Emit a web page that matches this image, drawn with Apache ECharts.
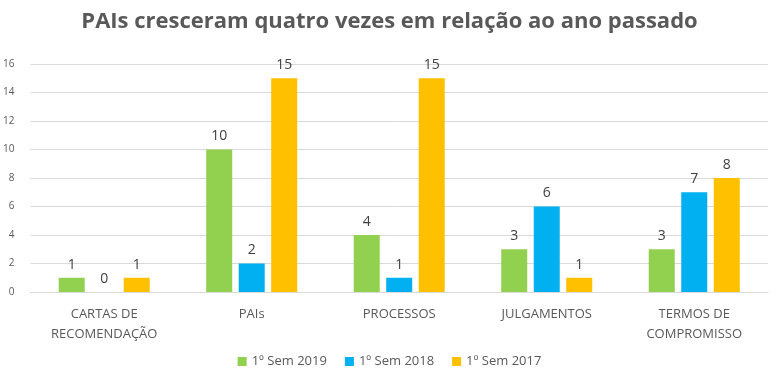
<!DOCTYPE html>
<html><head><meta charset="utf-8">
<script src="https://cdn.jsdelivr.net/npm/echarts@6/dist/echarts.min.js"></script>
<style>html,body{margin:0;padding:0;background:#fff}#c{width:779px;height:387px}</style>
</head><body><div id="c"></div>
<script>
var categories = ['CARTAS DE\nRECOMENDAÇÃO', 'PAIs', 'PROCESSOS', 'JULGAMENTOS', 'TERMOS DE\nCOMPROMISSO'];
var seriesNames = ['1º Sem 2019', '1º Sem 2018', '1º Sem 2017'];
var sem2019 = [1, 10, 4, 3, 3];
var sem2018 = [0, 2, 1, 6, 7];
var sem2017 = [1, 15, 15, 1, 8];
var colors = ['#92D050', '#00B0F0', '#FFC000'];
var font = '"Open Sans", "Liberation Sans", sans-serif';
var chart = echarts.init(document.getElementById('c'));
function mk(name, data, color) {
  return {
    name: name, type: 'bar', data: data, barWidth: 26, barGap: '25%',
    itemStyle: { color: color },
    label: { show: true, position: 'top', color: '#404040', fontSize: 14, fontFamily: font, distance: 6 }
  };
}
chart.setOption({
  animation: false,
  title: { text: 'PAIs cresceram quatro vezes em relação ao ano passado', left: 'center', top: 6,
    textStyle: { color: '#595959', fontSize: 22, fontWeight: 'bold', fontFamily: font } },
  legend: { bottom: 14, itemWidth: 9, itemHeight: 9, itemGap: 18, icon: 'rect',
    textStyle: { color: '#595959', fontSize: 13, fontFamily: font } },
  grid: { left: 30, right: 11, top: 64, bottom: 95, containLabel: false },
  xAxis: { type: 'category', data: categories,
    axisLine: { lineStyle: { color: '#D9D9D9' } }, axisTick: { show: false },
    axisLabel: { color: '#595959', fontSize: 13, fontFamily: font, margin: 12, lineHeight: 20 } },
  yAxis: { type: 'value', min: 0, max: 16, interval: 2,
    axisLine: { show: false }, axisTick: { show: false },
    splitLine: { lineStyle: { color: '#D9D9D9' } },
    axisLabel: { color: '#595959', fontSize: 10, fontFamily: font, margin: 16 } },
  series: [mk(seriesNames[0], sem2019, colors[0]), mk(seriesNames[1], sem2018, colors[1]), mk(seriesNames[2], sem2017, colors[2])]
});
</script></body></html>
